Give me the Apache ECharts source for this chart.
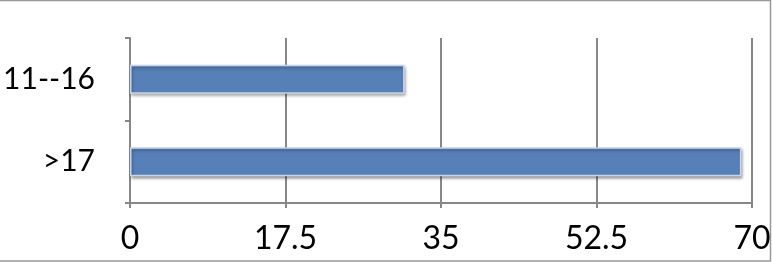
<!DOCTYPE html>
<html>
<head>
<meta charset="utf-8">
<script src="https://cdn.jsdelivr.net/npm/echarts@6/dist/echarts.min.js"></script>
<style>
html,body{margin:0;padding:0;background:#fff;}
#chart{width:772px;height:262px;}
</style>
</head>
<body>
<div id="chart"></div>
<script>
var categories = ['11--16', '>17'];
var values = [30.9, 68.8];
var xMin = 0, xMax = 70, xInterval = 17.5;

var chart = echarts.init(document.getElementById('chart'), null, {renderer: 'canvas'});
var gray = '#878787';
chart.setOption({
  animation: false,
  backgroundColor: '#ffffff',
  grid: {left: 130, right: 20, top: 38, bottom: 59, containLabel: false, outerBoundsMode: 'none'},
  xAxis: {
    type: 'value', min: xMin, max: xMax, interval: xInterval,
    axisLine: {show: true, lineStyle: {color: gray, width: 2}},
    axisTick: {show: true, length: 5, lineStyle: {color: gray, width: 2}},
    splitLine: {show: true, lineStyle: {color: gray, width: 2}},
    axisLabel: {
      color: '#000', fontFamily: 'Lato', fontSize: 32, margin: 20,
      formatter: function (v) { return String(v); }
    }
  },
  yAxis: {
    type: 'category', data: categories, inverse: true,
    axisLine: {show: true, lineStyle: {color: gray, width: 2}},
    axisTick: {show: true, length: 5, lineStyle: {color: gray, width: 2}},
    splitLine: {show: false},
    axisLabel: {color: '#000', fontFamily: 'Lato', fontSize: 30, margin: 35}
  },
  series: [{
    type: 'bar',
    data: values,
    barWidth: 29,
    itemStyle: {
      color: '#5880B8',
      borderColor: '#c6d6ec',
      borderWidth: 1.5,
      shadowColor: 'rgba(0,0,0,0.35)',
      shadowBlur: 3,
      shadowOffsetX: 1,
      shadowOffsetY: 2
    }
  }],
  graphic: [{
    type: 'polyline', silent: true,
    shape: {points: [[0, 0.5], [770.5, 0.5], [770.5, 261], [0, 261]]},
    style: {stroke: '#999', lineWidth: 1.5, fill: null}
  }]
});
</script>
</body>
</html>
